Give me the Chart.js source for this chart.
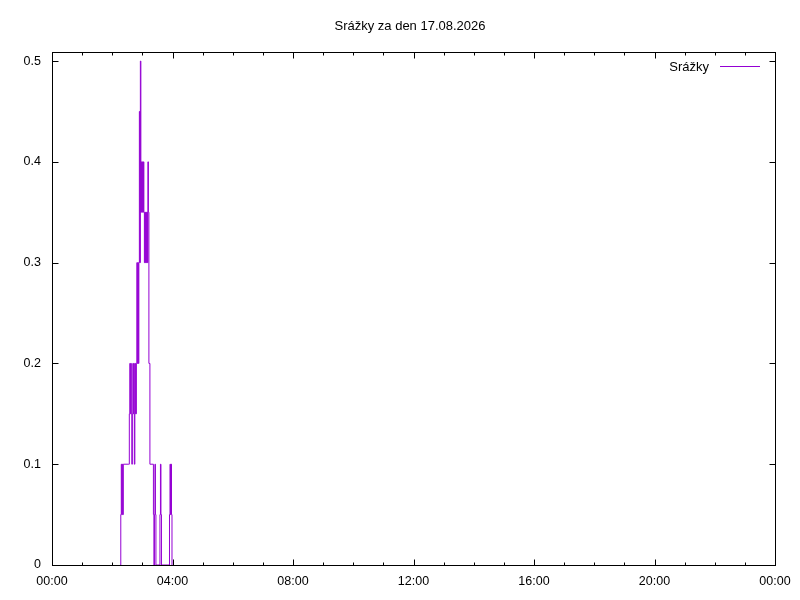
<!DOCTYPE html>
<html lang="cs">
<head>
    <meta charset="UTF-8">
    <title>Srážky za den 17.08.2026</title>
    <script src="https://cdn.jsdelivr.net/npm/chart.js"></script>
    <style>
        body { margin: 0; background: #fff; }
    </style>
</head>
<body>
    <canvas id="grafSrazky" width="800" height="600"></canvas>

    <script>
        // Data: minuty od půlnoci a úhrn srážek (mm)
        const titulek = 'Srážky za den 17.08.2026';
        const nazevRady = 'Srážky';
        const minuty = [
            136, 137, 138, 139, 140, 141, 142, 153, 154, 155, 156, 157, 158, 159, 160,
            161, 162, 163, 164, 165, 166, 167, 168, 169, 170, 171, 172, 173, 174,
            175, 176, 177, 178, 179, 180, 181, 182, 183, 184, 185, 186, 187, 188,
            189, 190, 191, 192, 193, 195, 202, 203, 204, 205, 206, 207, 215, 216,
            217, 218, 234, 235, 236, 237, 238, 239
        ];
        const srazky = [
            0, 0.05, 0.1, 0.05, 0.1, 0.05, 0.1, 0.1, 0.15, 0.2, 0.15, 0.2, 0.15, 0.1, 0.15,
            0.2, 0.15, 0.2, 0.1, 0.15, 0.2, 0.15, 0.2, 0.3, 0.2, 0.3, 0.2, 0.3, 0.45,
            0.3, 0.5, 0.35, 0.4, 0.35, 0.4, 0.35, 0.4, 0.35, 0.3, 0.35, 0.3, 0.35, 0.3,
            0.35, 0.3, 0.4, 0.35, 0.2, 0.1, 0.05, 0, 0.05, 0.1, 0.05, 0, 0.05, 0.1,
            0.05, 0, 0.05, 0.1, 0.05, 0.1, 0.05, 0
        ];
        const yTicks = [0, 0.1, 0.2, 0.3, 0.4, 0.5];
        const barva = '#9400d3';
        const pismo = "'Liberation Sans', Arial, sans-serif";

        const body = minuty.map((m, i) => ({ x: m, y: srazky[i] }));

        function casLabel(v) {
            const h = Math.floor(v / 60) % 24;
            const m = v % 60;
            return String(h).padStart(2, '0') + ':' + String(m).padStart(2, '0');
        }

        // ramecek, ticky dovnitr, titulek a legenda ve stylu gnuplotu
        const gnuplotRamecek = {
            id: 'gnuplotRamecek',
            afterDatasetsDraw(chart) {
                const { ctx, chartArea: a, scales } = chart;
                const px = v => Math.round(v) + 0.5;
                const L = px(a.left), R = px(a.right), T = px(a.top), B = px(a.bottom);
                ctx.save();
                ctx.strokeStyle = '#000';
                ctx.lineWidth = 1;
                ctx.strokeRect(L, T, R - L, B - T);

                ctx.beginPath();
                scales.y.ticks.forEach(t => {
                    const y = px(scales.y.getPixelForValue(t.value));
                    ctx.moveTo(L, y); ctx.lineTo(L + 6, y);
                    ctx.moveTo(R, y); ctx.lineTo(R - 6, y);
                });
                scales.x.ticks.forEach(t => {
                    const x = px(scales.x.getPixelForValue(t.value));
                    const d = t.value % 240 === 0 ? 6 : 3;
                    ctx.moveTo(x, B); ctx.lineTo(x, B - d);
                    ctx.moveTo(x, T); ctx.lineTo(x, T + d);
                });
                ctx.stroke();

                ctx.fillStyle = '#000';
                ctx.font = '13px ' + pismo;
                ctx.textBaseline = 'middle';
                ctx.textAlign = 'center';
                ctx.fillText(titulek, 410, 26);

                ctx.textAlign = 'right';
                ctx.fillText(nazevRady, 709, 67);
                ctx.strokeStyle = barva;
                ctx.beginPath();
                ctx.moveTo(720, 66.5);
                ctx.lineTo(760, 66.5);
                ctx.stroke();
                ctx.restore();
            }
        };

        Chart.defaults.color = '#000';

        new Chart(document.getElementById('grafSrazky'), {
            type: 'line',
            data: {
                datasets: [{
                    label: nazevRady,
                    data: body,
                    borderColor: barva,
                    borderWidth: 1,
                    pointRadius: 0,
                    stepped: 'before',
                    fill: false
                }]
            },
            options: {
                responsive: false,
                animation: false,
                layout: { padding: { top: 52, right: 25, bottom: 0, left: 0 } },
                plugins: {
                    legend: { display: false },
                    title: { display: false },
                    tooltip: { enabled: false }
                },
                scales: {
                    x: {
                        type: 'linear',
                        min: 0,
                        max: 1440,
                        grid: { display: false, drawTicks: false },
                        border: { display: false },
                        afterFit: s => { s.height = 35; },
                        ticks: {
                            stepSize: 60,
                            autoSkip: false,
                            maxRotation: 0,
                            padding: 9,
                            font: { family: pismo, size: 12.5 },
                            callback: v => (v % 240 === 0 ? casLabel(v) : '')
                        }
                    },
                    y: {
                        min: 0,
                        max: 0.509,
                        grid: { display: false, drawTicks: false },
                        border: { display: false },
                        afterFit: s => { s.width = 52; },
                        afterBuildTicks: s => { s.ticks = yTicks.map(v => ({ value: v })); },
                        ticks: {
                            padding: 11,
                            font: { family: pismo, size: 12.5 },
                            callback: v => (v === 0 ? '0' : v.toFixed(1))
                        }
                    }
                }
            },
            plugins: [gnuplotRamecek]
        });
    </script>
</body>
</html>
